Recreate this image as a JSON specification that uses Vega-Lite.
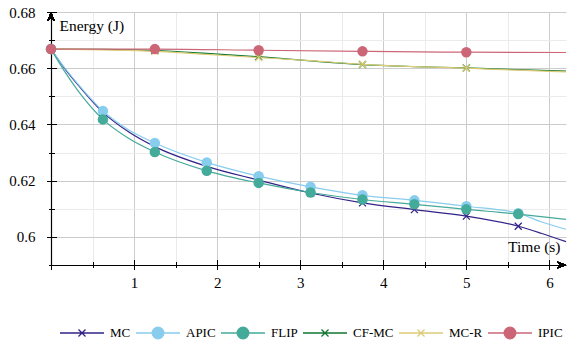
{
  "$schema": "https://vega.github.io/schema/vega-lite/v6.json",
  "width": 515,
  "height": 253,
  "autosize": {"type": "none"},
  "padding": {"left": 51, "top": 12, "right": 8, "bottom": 82},
  "background": "white",
  "config": {"view": {"stroke": null}, "font": "Liberation Serif"},
  "data": {"values": [
    {"series": "MC", "t": 0, "e": 0.6668, "marker": true},
    {"series": "MC", "t": 0.15, "e": 0.6605, "marker": false},
    {"series": "MC", "t": 0.3125, "e": 0.6545, "marker": false},
    {"series": "MC", "t": 0.625, "e": 0.6443, "marker": true},
    {"series": "MC", "t": 0.9375, "e": 0.6373, "marker": false},
    {"series": "MC", "t": 1.25, "e": 0.6321, "marker": true},
    {"series": "MC", "t": 1.875, "e": 0.6251, "marker": true},
    {"series": "MC", "t": 2.5, "e": 0.6202, "marker": true},
    {"series": "MC", "t": 3.125, "e": 0.6156, "marker": true},
    {"series": "MC", "t": 3.75, "e": 0.6121, "marker": true},
    {"series": "MC", "t": 4.375, "e": 0.6097, "marker": true},
    {"series": "MC", "t": 5, "e": 0.6074, "marker": true},
    {"series": "MC", "t": 5.625, "e": 0.6038, "marker": true},
    {"series": "MC", "t": 5.9, "e": 0.6013, "marker": false},
    {"series": "MC", "t": 6.2, "e": 0.5983, "marker": false},
    {"series": "APIC", "t": 0, "e": 0.6668, "marker": true},
    {"series": "APIC", "t": 0.15, "e": 0.6607, "marker": false},
    {"series": "APIC", "t": 0.3125, "e": 0.6548, "marker": false},
    {"series": "APIC", "t": 0.625, "e": 0.6448, "marker": true},
    {"series": "APIC", "t": 0.9375, "e": 0.638, "marker": false},
    {"series": "APIC", "t": 1.25, "e": 0.6334, "marker": true},
    {"series": "APIC", "t": 1.875, "e": 0.6265, "marker": true},
    {"series": "APIC", "t": 2.5, "e": 0.6216, "marker": true},
    {"series": "APIC", "t": 3.125, "e": 0.6178, "marker": true},
    {"series": "APIC", "t": 3.75, "e": 0.6148, "marker": true},
    {"series": "APIC", "t": 4.375, "e": 0.613, "marker": true},
    {"series": "APIC", "t": 5, "e": 0.6109, "marker": true},
    {"series": "APIC", "t": 5.625, "e": 0.6084, "marker": true},
    {"series": "APIC", "t": 5.9, "e": 0.6054, "marker": false},
    {"series": "APIC", "t": 6.2, "e": 0.6027, "marker": false},
    {"series": "FLIP", "t": 0, "e": 0.6668, "marker": true},
    {"series": "FLIP", "t": 0.15, "e": 0.6595, "marker": false},
    {"series": "FLIP", "t": 0.3125, "e": 0.6525, "marker": false},
    {"series": "FLIP", "t": 0.625, "e": 0.6418, "marker": true},
    {"series": "FLIP", "t": 0.9375, "e": 0.635, "marker": false},
    {"series": "FLIP", "t": 1.25, "e": 0.6302, "marker": true},
    {"series": "FLIP", "t": 1.875, "e": 0.6235, "marker": true},
    {"series": "FLIP", "t": 2.5, "e": 0.6192, "marker": true},
    {"series": "FLIP", "t": 3.125, "e": 0.6158, "marker": true},
    {"series": "FLIP", "t": 3.75, "e": 0.6133, "marker": true},
    {"series": "FLIP", "t": 4.375, "e": 0.6116, "marker": true},
    {"series": "FLIP", "t": 5, "e": 0.6098, "marker": true},
    {"series": "FLIP", "t": 5.625, "e": 0.6081, "marker": true},
    {"series": "FLIP", "t": 6.2, "e": 0.6062, "marker": false},
    {"series": "CF-MC", "t": 0, "e": 0.6668, "marker": true},
    {"series": "CF-MC", "t": 0.625, "e": 0.6667, "marker": false},
    {"series": "CF-MC", "t": 1.25, "e": 0.6663, "marker": true},
    {"series": "CF-MC", "t": 1.875, "e": 0.6653, "marker": false},
    {"series": "CF-MC", "t": 2.5, "e": 0.6641, "marker": true},
    {"series": "CF-MC", "t": 3.125, "e": 0.6626, "marker": false},
    {"series": "CF-MC", "t": 3.75, "e": 0.6613, "marker": true},
    {"series": "CF-MC", "t": 4.375, "e": 0.6606, "marker": false},
    {"series": "CF-MC", "t": 5, "e": 0.6601, "marker": true},
    {"series": "CF-MC", "t": 5.625, "e": 0.6595, "marker": false},
    {"series": "CF-MC", "t": 6.2, "e": 0.659, "marker": false},
    {"series": "MC-R", "t": 0, "e": 0.6668, "marker": true},
    {"series": "MC-R", "t": 0.625, "e": 0.6665, "marker": false},
    {"series": "MC-R", "t": 1.25, "e": 0.666, "marker": true},
    {"series": "MC-R", "t": 1.875, "e": 0.6649, "marker": false},
    {"series": "MC-R", "t": 2.5, "e": 0.6638, "marker": true},
    {"series": "MC-R", "t": 3.125, "e": 0.6627, "marker": false},
    {"series": "MC-R", "t": 3.75, "e": 0.6614, "marker": true},
    {"series": "MC-R", "t": 4.375, "e": 0.6606, "marker": false},
    {"series": "MC-R", "t": 5, "e": 0.66, "marker": true},
    {"series": "MC-R", "t": 5.625, "e": 0.6593, "marker": false},
    {"series": "MC-R", "t": 6.2, "e": 0.6587, "marker": false},
    {"series": "IPIC", "t": 0, "e": 0.6668, "marker": true},
    {"series": "IPIC", "t": 1.25, "e": 0.6668, "marker": true},
    {"series": "IPIC", "t": 2.5, "e": 0.6664, "marker": true},
    {"series": "IPIC", "t": 3.75, "e": 0.666, "marker": true},
    {"series": "IPIC", "t": 5, "e": 0.6657, "marker": true},
    {"series": "IPIC", "t": 6.2, "e": 0.6656, "marker": false}
  ]},
  "layer": [
    {
      "mark": {"type": "line", "interpolate": "monotone", "strokeWidth": 1.2},
      "encoding": {
        "x": {"field": "t", "type": "quantitative",
          "scale": {"domain": [0, 6.2], "nice": false, "zero": false},
          "axis": {
            "orient": "bottom",
            "values": [0, 0.5, 1, 1.5, 2, 2.5, 3, 3.5, 4, 4.5, 5, 5.5, 6],
            "domainColor": "black", "domainWidth": 1.2,
            "tickColor": "black", "tickWidth": 1,
            "tickSize": {"condition": {"test": "datum.value % 1 === 0", "value": 4.5}, "value": 2.5},
            "grid": true,
            "gridColor": {"condition": {"test": "datum.value % 1 === 0", "value": "#cccccc"}, "value": "#ebebeb"},
            "gridWidth": 1,
            "labelExpr": "datum.value % 1 === 0 && datum.value > 0 ? format(datum.value, 'd') : ''",
            "labelFont": "Liberation Serif", "labelFontSize": 15, "labelColor": "black",
            "labelPadding": 6, "labelFlush": false, "labelOverlap": false,
            "title": "Time (s)", "titleFont": "Liberation Serif", "titleFontSize": 15.5,
            "titleFontWeight": "normal", "titleColor": "black",
            "titleX": 509, "titleY": -14, "titleAlign": "right", "titleBaseline": "alphabetic"
          }},
        "y": {"field": "e", "type": "quantitative",
          "scale": {"domain": [0.59, 0.68], "nice": false, "zero": false},
          "axis": {
            "orient": "left",
            "values": [0.59, 0.6, 0.61, 0.62, 0.63, 0.64, 0.65, 0.66, 0.67, 0.68],
            "domainColor": "black", "domainWidth": 1.2,
            "tickColor": "black", "tickWidth": 1,
            "tickSize": {"condition": {"test": "round(datum.value * 100) % 2 === 0", "value": 4.5}, "value": 2.5},
            "grid": true,
            "gridColor": {"condition": {"test": "round(datum.value * 100) % 2 === 0", "value": "#cccccc"}, "value": "#ebebeb"},
            "gridWidth": 1,
            "labelExpr": "round(datum.value * 100) % 2 === 0 ? format(datum.value, '.2~f') : ''",
            "labelFont": "Liberation Serif", "labelFontSize": 15, "labelColor": "black",
            "labelPadding": 11.5, "labelFlush": false, "labelOverlap": false,
            "title": "Energy (J)", "titleFont": "Liberation Serif", "titleFontSize": 15.5,
            "titleFontWeight": "normal", "titleColor": "black", "titleAngle": 0,
            "titleX": 8, "titleY": 18, "titleAlign": "left", "titleBaseline": "alphabetic"
          }},
        "color": {"field": "series", "type": "nominal",
          "scale": {"domain": ["MC", "APIC", "FLIP", "CF-MC", "MC-R", "IPIC"],
                    "range": ["#332288", "#88CCEE", "#44AA99", "#117733", "#DDCC77", "#CC6677"]},
          "legend": {
            "orient": "none", "legendX": 8, "legendY": 298,
            "direction": "horizontal", "title": null, "gridAlign": "none",
            "symbolSize": 1936, "symbolStrokeWidth": 1.3,
            "labelFont": "Liberation Serif", "labelFontSize": 13, "labelFontWeight": "normal", "labelColor": "black",
            "labelOffset": 5, "columnPadding": 2,
            "encode": {"symbols": {"update": {
              "shape": {"signal": "indexof(['APIC','FLIP','IPIC'], datum.value) >= 0 ? 'M-1,0H1M-0.264,0A0.264,0.264 0 1,0 0.264,0A0.264,0.264 0 1,0 -0.264,0Z' : 'M-1,0H1M-0.16,-0.16L0.16,0.16M-0.16,0.16L0.16,-0.16'"},
              "fill": {"scale": "color", "field": "value"},
              "stroke": {"scale": "color", "field": "value"},
              "opacity": {"value": 1}
            }}}
          }}
      }
    },
    {
      "transform": [{"filter": "datum.marker && indexof(['MC','CF-MC','MC-R'], datum.series) >= 0"}],
      "mark": {"type": "point", "shape": "M-1,-1L1,1M-1,1L1,-1", "filled": false, "size": 49, "strokeWidth": 1.3, "opacity": 1},
      "encoding": {
        "x": {"field": "t", "type": "quantitative",
          "axis": {
            "orient": "bottom",
            "values": [0, 0.5, 1, 1.5, 2, 2.5, 3, 3.5, 4, 4.5, 5, 5.5, 6],
            "domain": false, "labels": false, "grid": false, "title": null,
            "tickColor": "black", "tickWidth": 1,
            "tickSize": {"condition": {"test": "datum.value % 1 === 0", "value": -5.5}, "value": -3.5}
          }},
        "y": {"field": "e", "type": "quantitative",
          "axis": {
            "orient": "left",
            "values": [0.59, 0.6, 0.61, 0.62, 0.63, 0.64, 0.65, 0.66, 0.67, 0.68],
            "domain": false, "labels": false, "grid": false, "title": null,
            "tickColor": "black", "tickWidth": 1,
            "tickSize": {"condition": {"test": "round(datum.value * 100) % 2 === 0", "value": -5.5}, "value": -3.5}
          }},
        "color": {"field": "series", "type": "nominal"}
      }
    },
    {
      "transform": [{"filter": "datum.marker && indexof(['APIC','FLIP','IPIC'], datum.series) >= 0"}],
      "mark": {"type": "point", "shape": "circle", "filled": true, "size": 110, "opacity": 1},
      "encoding": {
        "x": {"field": "t", "type": "quantitative", "axis": null},
        "y": {"field": "e", "type": "quantitative", "axis": null},
        "color": {"field": "series", "type": "nominal"}
      }
    },
    {
      "mark": {"type": "point", "shape": "M0,0L-2,-0.8L-1.4,0L-2,0.8Z", "filled": true, "color": "black", "size": 81, "opacity": 1},
      "encoding": {
        "x": {"datum": 6.2, "type": "quantitative", "axis": null},
        "y": {"datum": 0.59, "type": "quantitative", "axis": null}
      }
    },
    {
      "mark": {"type": "point", "shape": "M0,0L-0.8,2L0,1.4L0.8,2Z", "filled": true, "color": "black", "size": 81, "opacity": 1},
      "encoding": {
        "x": {"datum": 0, "type": "quantitative", "axis": null},
        "y": {"datum": 0.68, "type": "quantitative", "axis": null}
      }
    }
  ],
  "resolve": {"axis": {"x": "independent", "y": "independent"}}
}
